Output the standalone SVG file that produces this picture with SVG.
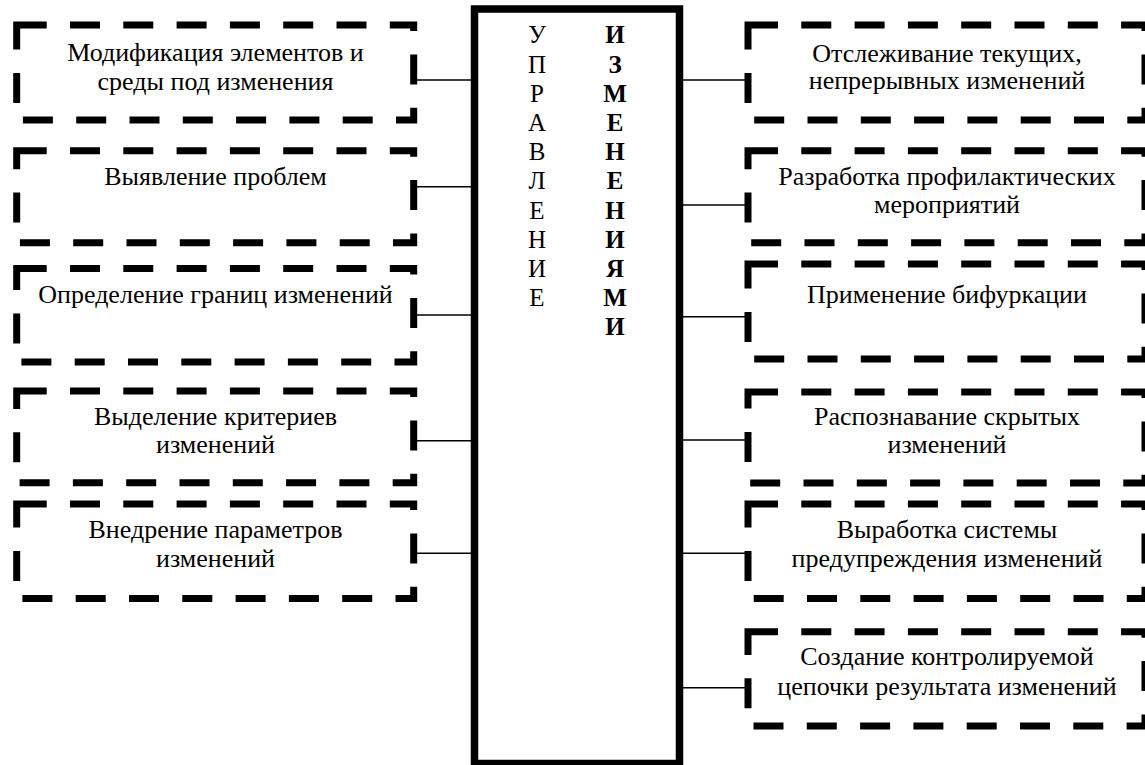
<svg xmlns="http://www.w3.org/2000/svg" width="1145" height="765" viewBox="0 0 1145 765">
  <style>
    .box { fill: #ffffff; stroke: #000000; stroke-width: 7; stroke-dasharray: 30 23.3; }
    .center { fill: #ffffff; stroke: #000000; stroke-width: 7.5; }
    .lbl { font-family: "Liberation Serif", "Times New Roman", serif; font-size: 26px; fill: #000000; text-anchor: middle; }
    .col { font-family: "Liberation Serif", "Times New Roman", serif; font-size: 25px; fill: #000000; text-anchor: middle; }
    .bold { font-weight: bold; }
    .conn { stroke: #000000; stroke-width: 1.5; fill: none; }
  </style>
  <rect width="1145" height="765" fill="#ffffff"/>

  <g id="connectors">
    <line class="conn" x1="417" y1="80" x2="472" y2="80"/>
    <line class="conn" x1="417" y1="186.7" x2="472" y2="186.7"/>
    <line class="conn" x1="417" y1="315" x2="472" y2="315"/>
    <line class="conn" x1="417" y1="440.7" x2="472" y2="440.7"/>
    <line class="conn" x1="417" y1="553.3" x2="472" y2="553.3"/>
    <line class="conn" x1="682" y1="80" x2="745" y2="80"/>
    <line class="conn" x1="682" y1="205" x2="745" y2="205"/>
    <line class="conn" x1="682" y1="316.7" x2="748" y2="316.7"/>
    <line class="conn" x1="682" y1="440" x2="745" y2="440"/>
    <line class="conn" x1="682" y1="553.3" x2="745" y2="553.3"/>
    <line class="conn" x1="682" y1="687.7" x2="745" y2="687.7"/>
  </g>

  <g id="center-node">
    <rect class="center" x="474.5" y="9" width="205" height="754.5"/>
    <text class="col" x="537" y="43.3">У</text>
    <text class="col" x="537" y="72.5">П</text>
    <text class="col" x="537" y="101.7">Р</text>
    <text class="col" x="537" y="130.9">А</text>
    <text class="col" x="537" y="160.1">В</text>
    <text class="col" x="537" y="189.3">Л</text>
    <text class="col" x="537" y="218.5">Е</text>
    <text class="col" x="537" y="247.7">Н</text>
    <text class="col" x="537" y="276.9">И</text>
    <text class="col" x="537" y="306.1">Е</text>
    <text class="col bold" x="615" y="43.3">И</text>
    <text class="col bold" x="615" y="72.5">З</text>
    <text class="col bold" x="615" y="101.7">М</text>
    <text class="col bold" x="615" y="130.9">Е</text>
    <text class="col bold" x="615" y="160.1">Н</text>
    <text class="col bold" x="615" y="189.3">Е</text>
    <text class="col bold" x="615" y="218.5">Н</text>
    <text class="col bold" x="615" y="247.7">И</text>
    <text class="col bold" x="615" y="276.9">Я</text>
    <text class="col bold" x="615" y="306.1">М</text>
    <text class="col bold" x="615" y="335.3">И</text>
  </g>

  <g id="left-1">
    <rect class="box" x="16.7" y="25" width="397" height="95"/>
    <text class="lbl" x="215.5" y="61">Модификация элементов и</text>
    <text class="lbl" x="215.5" y="89.5">среды под изменения</text>
  </g>
  <g id="left-2">
    <rect class="box" x="16.7" y="150.7" width="397" height="92"/>
    <text class="lbl" x="215.5" y="185">Выявление проблем</text>
  </g>
  <g id="left-3">
    <rect class="box" x="16.7" y="268.5" width="397" height="93.5"/>
    <text class="lbl" x="215.5" y="303.3">Определение границ изменений</text>
  </g>
  <g id="left-4">
    <rect class="box" x="16.7" y="391" width="397" height="91.7"/>
    <text class="lbl" x="215.5" y="425">Выделение критериев</text>
    <text class="lbl" x="215.5" y="453.3">изменений</text>
  </g>
  <g id="left-5">
    <rect class="box" x="16.7" y="504" width="397" height="94.5"/>
    <text class="lbl" x="215.5" y="538.3">Внедрение параметров</text>
    <text class="lbl" x="215.5" y="566.7">изменений</text>
  </g>

  <g id="right-1">
    <rect class="box" x="748" y="25" width="397" height="95"/>
    <text class="lbl" x="947" y="61.7">Отслеживание текущих,</text>
    <text class="lbl" x="947" y="88.5">непрерывных изменений</text>
  </g>
  <g id="right-2">
    <rect class="box" x="748" y="150.7" width="397" height="92"/>
    <text class="lbl" x="947" y="185">Разработка профилактических</text>
    <text class="lbl" x="947" y="213.3">мероприятий</text>
  </g>
  <g id="right-3">
    <rect class="box" x="748" y="264" width="397" height="95"/>
    <text class="lbl" x="947" y="303.3">Применение бифуркации</text>
  </g>
  <g id="right-4">
    <rect class="box" x="748" y="392" width="397" height="91"/>
    <text class="lbl" x="947" y="425">Распознавание скрытых</text>
    <text class="lbl" x="947" y="453.3">изменений</text>
  </g>
  <g id="right-5">
    <rect class="box" x="748" y="504" width="397" height="94.5"/>
    <text class="lbl" x="947" y="538.3">Выработка системы</text>
    <text class="lbl" x="947" y="566.7">предупреждения изменений</text>
  </g>
  <g id="right-6">
    <rect class="box" x="748" y="631.7" width="397" height="94.3"/>
    <text class="lbl" x="947" y="665">Создание контролируемой</text>
    <text class="lbl" x="947" y="695">цепочки результата изменений</text>
  </g>
</svg>
